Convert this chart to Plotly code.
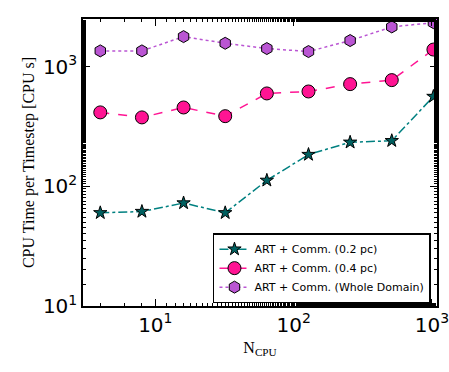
import numpy as np
import plotly.graph_objects as go

n_cpu = [4, 8, 16, 32, 64, 128, 256, 512, 1024]
t_02pc = [60, 61.5, 72.5, 60, 112, 184, 233, 240, 562]
t_04pc = [414, 376, 455, 385, 596, 619, 713, 770, 1386]
t_whole = [1351, 1351, 1778, 1564, 1413, 1334, 1648, 2142, 2326]

labels = ["ART + Comm. (0.2 pc)", "ART + Comm. (0.4 pc)",
          "ART + Comm. (Whole Domain)"]

x_ticks = [10, 100, 1000]
y_ticks = [10, 100, 1000]
tick_text = ["10<sup>1</sup>", "10<sup>2</sup>", "10<sup>3</sup>"]

fig = go.Figure()

fig.add_trace(go.Scatter(
    x=n_cpu, y=t_02pc, name=labels[0], mode="lines+markers",
    line=dict(color="#008080", dash="dashdot", width=1.5),
    marker=dict(symbol="star", size=10, color="#006060",
                line=dict(color="black", width=1))))

fig.add_trace(go.Scatter(
    x=n_cpu, y=t_04pc, name=labels[1], mode="lines+markers",
    line=dict(color="#ff1493", dash="dash", width=1.5),
    marker=dict(symbol="circle", size=13, color="#ff1493",
                line=dict(color="black", width=1))))

fig.add_trace(go.Scatter(
    x=n_cpu, y=t_whole, name=labels[2], mode="lines+markers",
    line=dict(color="#ba55d3", dash="dot", width=1.5),
    marker=dict(symbol="hexagon", size=12, color="#ba55d3",
                line=dict(color="black", width=1))))

axis_common = dict(
    type="log", showgrid=False, zeroline=False, automargin=False,
    showline=True, linecolor="black", linewidth=1.5, mirror="allticks",
    ticks="inside", ticklen=7, tickwidth=1, tickcolor="black",
    ticklabeloverflow="allow",
    tickfont=dict(family="DejaVu Sans", size=20, color="black"),
    minor=dict(ticks="inside", ticklen=3.5, tickcolor="black", showgrid=False),
)

fig.update_xaxes(**axis_common, range=[np.log10(3), np.log10(1087)],
                 tickvals=x_ticks, ticktext=tick_text,
                 title=dict(text="N<sub>CPU</sub>",
                            font=dict(family="Liberation Serif", size=16, color="black"),
                            standoff=6))
fig.update_yaxes(**axis_common, range=[1, 3.397],
                 tickvals=y_ticks, ticktext=tick_text,
                 title=dict(text="CPU Time per Timestep [CPU s]",
                            font=dict(family="Liberation Serif", size=16, color="black"),
                            standoff=4))

fig.update_layout(
    width=449, height=372,
    margin=dict(l=83, r=12, t=19, b=66),
    paper_bgcolor="white", plot_bgcolor="white",
    showlegend=True,
    legend=dict(x=0.983, y=0.01, xanchor="right", yanchor="bottom",
                bordercolor="black", borderwidth=1.5, bgcolor="white",
                font=dict(family="DejaVu Sans", size=11, color="black"),
                tracegroupgap=0, itemwidth=30),
)

# drop the default page margin so the figure sits at the window's corner
fig.write_html("out.html", config={"displayModeBar": False},
               post_script="document.body.style.margin='0';document.body.style.padding='0';")
